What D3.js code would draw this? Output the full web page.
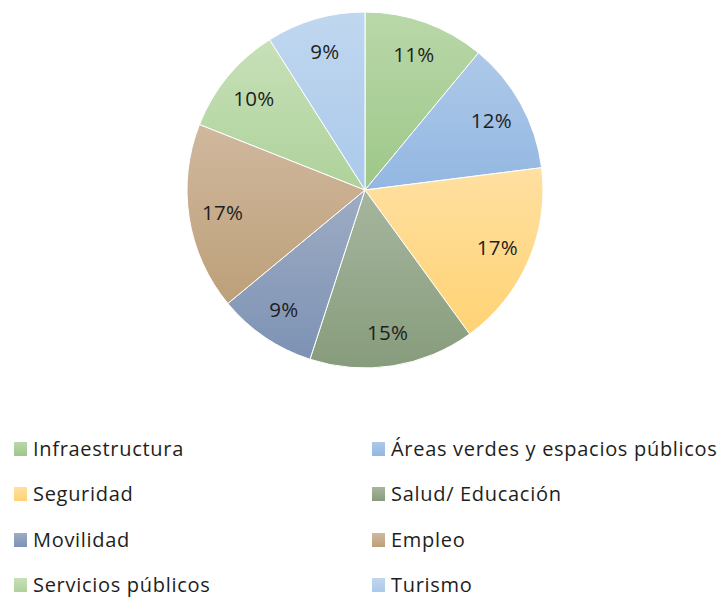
<!DOCTYPE html>
<html><head><meta charset="utf-8">
<script src="https://cdn.jsdelivr.net/npm/d3@7"></script>
<style>body{margin:0;background:#fff}svg{display:block}</style>
</head><body>
<svg id="chart" width="727" height="597"></svg>
<script>
const categories = ["Infraestructura","Áreas verdes y espacios públicos","Seguridad","Salud/ Educación","Movilidad","Empleo","Servicios públicos","Turismo"];
const values = [11,12,17,15,9,17,10,9];
const topColors = ["#b9d8a9","#adc9e8","#ffe0a2","#a6b69e","#9eacc4","#d0b89e","#c7e0b8","#c0d7ef"];
const bottomColors = ["#9ec788","#93b7e2","#ffd374","#879c7c","#7d92b4","#bda079","#aed29b","#abc9eb"];

const svg = d3.select("#chart");
const defs = svg.append("defs");
categories.forEach((c,i)=>{
  const g = defs.append("linearGradient").attr("id","g"+i).attr("x1",0).attr("y1",0).attr("x2",0).attr("y2",1);
  g.append("stop").attr("offset","0%").attr("stop-color",topColors[i]);
  g.append("stop").attr("offset","100%").attr("stop-color",bottomColors[i]);
});
const cx=365, cy=190, r=178;
const pie = d3.pie().sort(null).value(d=>d)(values);
const arc = d3.arc().innerRadius(0).outerRadius(r);
const labelArc = d3.arc().innerRadius(r*0.81).outerRadius(r*0.81);
const g = svg.append("g").attr("transform",`translate(${cx},${cy})`);
g.selectAll("path").data(pie).join("path")
  .attr("d",arc).attr("fill",(d,i)=>`url(#g${i})`)
  .attr("stroke","#fff").attr("stroke-width",1);
const total = d3.sum(values);
g.selectAll("text").data(pie).join("text")
  .attr("transform",d=>`translate(${labelArc.centroid(d)})`)
  .attr("text-anchor","middle").attr("dy","0.38em")
  .attr("font-family","'Open Sans', sans-serif").attr("font-size",20.5)
  .attr("letter-spacing",0.3)
  .attr("fill","#1e1e1e")
  .text(d=>Math.round(d.data/total*100)+"%");

const leg = svg.append("g");
const rowY = [449,494,540,585];
const colX = [14,372];
categories.forEach((c,i)=>{
  const x = colX[i%2], y = rowY[Math.floor(i/2)];
  leg.append("rect").attr("x",x).attr("y",y-7).attr("width",13).attr("height",14).attr("fill",`url(#g${i})`);
  leg.append("text").attr("x",x+19).attr("y",y).attr("dy","0.35em")
    .attr("font-family","'Open Sans', sans-serif").attr("font-size",20).attr("letter-spacing",0.7)
    .attr("fill","#1e1e1e")
    .text(c);
});
</script>
</body></html>
